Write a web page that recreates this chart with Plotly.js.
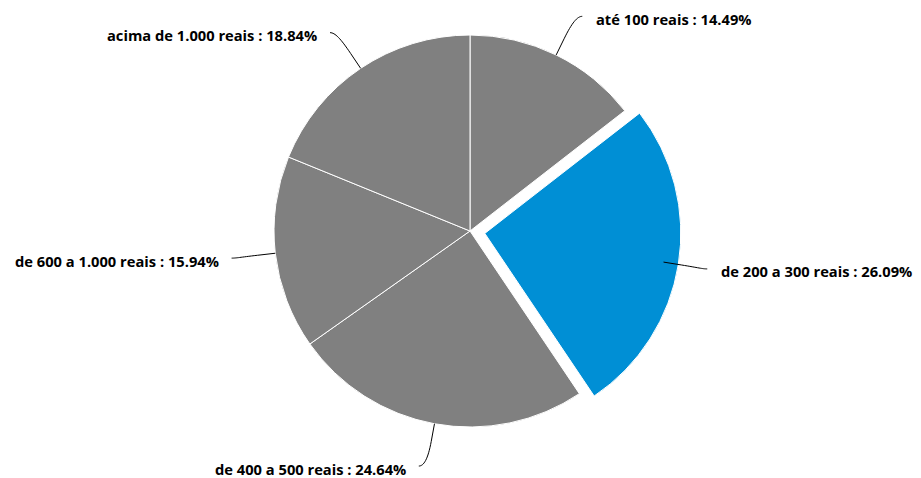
<!DOCTYPE html>
<html><head><meta charset="utf-8">
<script src="https://cdn.plot.ly/plotly-3.0.1.min.js"></script>
<style>html,body{margin:0;padding:0;background:#fff}#chart{width:921px;height:478px}</style>
</head><body><div id="chart"></div>
<script>
const categories = ["até 100 reais", "de 200 a 300 reais", "de 400 a 500 reais", "de 600 a 1.000 reais", "acima de 1.000 reais"];
const shares = [14.49, 26.09, 24.64, 15.94, 18.84];
const sliceColors = ["#808080", "#008fd5", "#808080", "#808080", "#808080"];
const pulls = [0, 0.0765, 0, 0, 0];

const W = 921, H = 478, CX = 470, CY = 231, R = 196;
const maxPull = Math.max(...pulls);
const half = R * (1 + maxPull);
const domain = {x: [(CX - 300) / W, (CX + 300) / W], y: [1 - (CY + half) / H, 1 - (CY - half) / H]};
const px = x => x / W, py = y => 1 - y / H;
const total = shares.reduce((a, b) => a + b, 0);

let cum = 0;
const shapes = [], annotations = [];
shares.forEach((v, i) => {
  const mid = (cum + v / 2) / total * 2 * Math.PI; cum += v;
  const s = Math.sin(mid), c = Math.cos(mid);
  const right = s >= 0, sign = right ? 1 : -1;
  const touch = {x: CX + R * s, y: CY - R * c};
  const brk = {x: CX + (R + 18) * s, y: CY - (R + 18) * c};
  const LR = R + 43;
  const end = {x: CX + LR * s + sign * 8 * Math.abs(c), y: CY - LR * c};
  const c1 = {x: end.x - sign * 5, y: end.y};
  const c2 = {x: 2 * brk.x - touch.x, y: 2 * brk.y - touch.y};
  shapes.push({
    type: 'path', xref: 'paper', yref: 'paper',
    path: `M${px(end.x)},${py(end.y)} C${px(c1.x)},${py(c1.y)} ${px(c2.x)},${py(c2.y)} ${px(brk.x)},${py(brk.y)} L${px(touch.x)},${py(touch.y)}`,
    line: {color: '#000000', width: 1}
  });
  annotations.push({
    xref: 'paper', yref: 'paper',
    x: px(end.x + sign * (right ? 12 : 11)), y: py(end.y + 2.5),
    xanchor: right ? 'left' : 'right', yanchor: 'middle',
    showarrow: false,
    text: `<b>${categories[i]} : ${v.toFixed(2)}%</b>`,
    font: {family: 'Open Sans, Noto Sans, sans-serif', size: 14.7, color: '#000000'}
  });
});

const data = [{
  type: 'pie',
  labels: categories,
  values: shares,
  sort: false,
  direction: 'clockwise',
  rotation: 0,
  pull: pulls,
  marker: {colors: sliceColors, line: {color: '#ffffff', width: 1}},
  textinfo: 'none',
  hoverinfo: 'label+percent',
  domain: domain,
  showlegend: false
}];

const layout = {
  width: W, height: H,
  margin: {l: 0, r: 0, t: 0, b: 0},
  paper_bgcolor: '#ffffff', plot_bgcolor: '#ffffff',
  showlegend: false,
  shapes: shapes,
  annotations: annotations
};
Plotly.newPlot('chart', data, layout, {displayModeBar: false, staticPlot: true});
</script>
</body></html>
